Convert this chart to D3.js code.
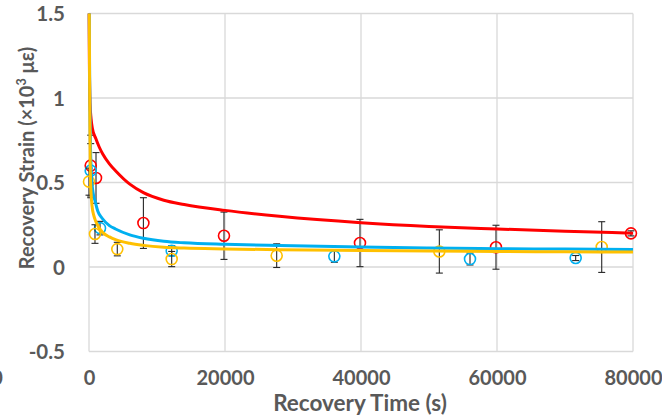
<!DOCTYPE html>
<html>
<head>
<meta charset="utf-8">
<script src="https://cdn.jsdelivr.net/npm/d3@7"></script>
<style>
  html, body { margin: 0; padding: 0; background: #fff; }
  svg { display: block; }
  text { font-family: Lato, "Open Sans", sans-serif; font-weight: 700; fill: #595959; }
</style>
</head>
<body>
<svg id="chart" width="662" height="417"></svg>
<script>
// ---- data ----
const xTicks = [0, 20000, 40000, 60000, 80000];
const yTicks = [-0.5, 0, 0.5, 1, 1.5];
const yTickLabels = ["-0.5", "0", "0.5", "1", "1.5"];

// fitted curves
const redCurveX = [15, 60, 150, 300, 500, 1000, 1500, 2000, 3000, 4000, 6000, 8000, 11000, 14000, 20000, 28000, 40000, 50000, 60000, 70000, 80000];
const redCurveY = [1.5, 1.2, 0.97, 0.88, 0.82, 0.76, 0.71, 0.67, 0.61, 0.565, 0.49, 0.44, 0.395, 0.37, 0.335, 0.30, 0.262, 0.24, 0.225, 0.212, 0.20];

const blueCurveX = [40, 100, 200, 350, 600, 900, 1300, 1900, 3000, 3900, 6000, 8000, 11000, 14000, 20000, 28000, 40000, 50000, 60000, 70000, 80000];
const blueCurveY = [1.5, 1.1, 0.75, 0.55, 0.44, 0.39, 0.33, 0.29, 0.245, 0.225, 0.19, 0.17, 0.152, 0.143, 0.134, 0.127, 0.118, 0.112, 0.108, 0.106, 0.104];

const yellowCurveX = [40, 90, 140, 200, 300, 450, 700, 1000, 1500, 2000, 3000, 4000, 6000, 8000, 11000, 14000, 20000, 28000, 40000, 50000, 60000, 70000, 80000];
const yellowCurveY = [1.5, 1.1, 0.8, 0.55, 0.44, 0.36, 0.305, 0.27, 0.23, 0.205, 0.178, 0.16, 0.14, 0.128, 0.117, 0.112, 0.107, 0.102, 0.098, 0.095, 0.092, 0.09, 0.089];

// measured points with error bars
const redPtsX = [250, 1030, 8000, 19850, 39850, 59850, 79700];
const redPtsY = [0.60, 0.527, 0.26, 0.185, 0.142, 0.117, 0.199];
const redPtsErr = [0.18, 0.15, 0.15, 0.14, 0.14, 0.13, 0.015];

const bluePtsX = [250, 1620, 12160, 36080, 56030, 71570];
const bluePtsY = [0.57, 0.23, 0.096, 0.063, 0.047, 0.053];
const bluePtsErr = [0.16, 0.04, 0.03, 0.035, 0.035, 0.015];

const yellowPtsX = [0, 880, 4160, 12160, 27600, 51520, 75400];
const yellowPtsY = [0.505, 0.195, 0.106, 0.047, 0.067, 0.092, 0.118];
const yellowPtsErr = [0.08, 0.055, 0.04, 0.045, 0.07, 0.128, 0.15];

const series = [
  { color: "#ff0000", cx: redCurveX, cy: redCurveY, px: redPtsX, py: redPtsY, pe: redPtsErr },
  { color: "#00b0f0", cx: blueCurveX, cy: blueCurveY, px: bluePtsX, py: bluePtsY, pe: bluePtsErr },
  { color: "#ffc000", cx: yellowCurveX, cy: yellowCurveY, px: yellowPtsX, py: yellowPtsY, pe: yellowPtsErr }
];

// ---- layout ----
const W = 662, H = 417;
const margin = { left: 89, right: 29, top: 13.5, bottom: 65.5 };
const svg = d3.select("#chart");

const x = d3.scaleLinear().domain([0, 80000]).range([margin.left, W - margin.right]);
const y = d3.scaleLinear().domain([-0.5, 1.5]).range([H - margin.bottom, margin.top]);

const grid = svg.append("g");
grid.selectAll("line.h").data(yTicks).enter().append("line")
  .attr("x1", x(0)).attr("x2", x(80000))
  .attr("y1", d => y(d)).attr("y2", d => y(d))
  .attr("stroke", "#d9d9d9").attr("stroke-width", 1.3);
grid.selectAll("line.v").data(xTicks).enter().append("line")
  .attr("x1", d => x(d)).attr("x2", d => x(d))
  .attr("y1", y(-0.5)).attr("y2", y(1.5))
  .attr("stroke", "#d9d9d9").attr("stroke-width", 1.3);

// axes labels via d3 axes
const yAxis = d3.axisLeft(y).tickValues(yTicks).tickFormat((d, i) => yTickLabels[i]).tickSize(0).tickPadding(0);
const gy = svg.append("g").attr("transform", `translate(65,0)`).call(yAxis);
gy.select(".domain").remove();
gy.selectAll("text").attr("font-size", 20.5).attr("font-family", null).attr("dy", "0.35em");

const xAxis = d3.axisBottom(x).tickValues(xTicks).tickFormat(d3.format("d")).tickSize(0).tickPadding(0);
const gx = svg.append("g").attr("transform", `translate(0,385)`).call(xAxis);
gx.select(".domain").remove();
gx.selectAll("text").attr("font-size", 20).attr("font-family", null).attr("y", 0).attr("dy", 0);

// partly clipped stray label at the far left (as in the source picture)
svg.append("text").attr("x", -3).attr("y", 385).attr("text-anchor", "middle")
  .attr("font-size", 20).text("0");

// axis titles
svg.append("text").attr("x", 360).attr("y", 411).attr("text-anchor", "middle")
  .attr("font-size", 22.5).text("Recovery Time (s)");

const yt = svg.append("text").attr("transform", "translate(34,158) rotate(-90)")
  .attr("text-anchor", "middle").attr("font-size", 20);
yt.append("tspan").text("Recovery Strain (×10");
yt.append("tspan").attr("font-size", 12.5).attr("dy", -8).text("3");
yt.append("tspan").attr("dy", 8).text(" με)");

// error bars and markers
const plot = svg.append("g");
series.forEach(s => {
  const pts = s.px.map((d, i) => ({ x: d, y: s.py[i], e: s.pe[i] }));
  const eb = plot.append("g");
  eb.selectAll("line.bar").data(pts).enter().append("line")
    .attr("x1", d => x(d.x)).attr("x2", d => x(d.x))
    .attr("y1", d => y(d.y - d.e)).attr("y2", d => y(d.y + d.e))
    .attr("stroke", "#262626").attr("stroke-width", 1.1);
  eb.selectAll("line.capT").data(pts).enter().append("line")
    .attr("x1", d => x(d.x) - 3.5).attr("x2", d => x(d.x) + 3.5)
    .attr("y1", d => y(d.y + d.e)).attr("y2", d => y(d.y + d.e))
    .attr("stroke", "#262626").attr("stroke-width", 1.1);
  eb.selectAll("line.capB").data(pts).enter().append("line")
    .attr("x1", d => x(d.x) - 3.5).attr("x2", d => x(d.x) + 3.5)
    .attr("y1", d => y(d.y - d.e)).attr("y2", d => y(d.y - d.e))
    .attr("stroke", "#262626").attr("stroke-width", 1.1);
  plot.append("g").selectAll("circle").data(pts).enter().append("circle")
    .attr("cx", d => x(d.x)).attr("cy", d => y(d.y)).attr("r", 5.5)
    .attr("fill", "none").attr("stroke", s.color).attr("stroke-width", 1.6);
});

// curves
const line = d3.line().x(d => x(d[0])).y(d => y(d[1])).curve(d3.curveMonotoneX);
series.forEach(s => {
  plot.append("path")
    .datum(s.cx.map((d, i) => [d, s.cy[i]]))
    .attr("d", line)
    .attr("fill", "none").attr("stroke", s.color).attr("stroke-width", 3)
    .attr("stroke-linejoin", "round");
});
</script>
</body>
</html>
